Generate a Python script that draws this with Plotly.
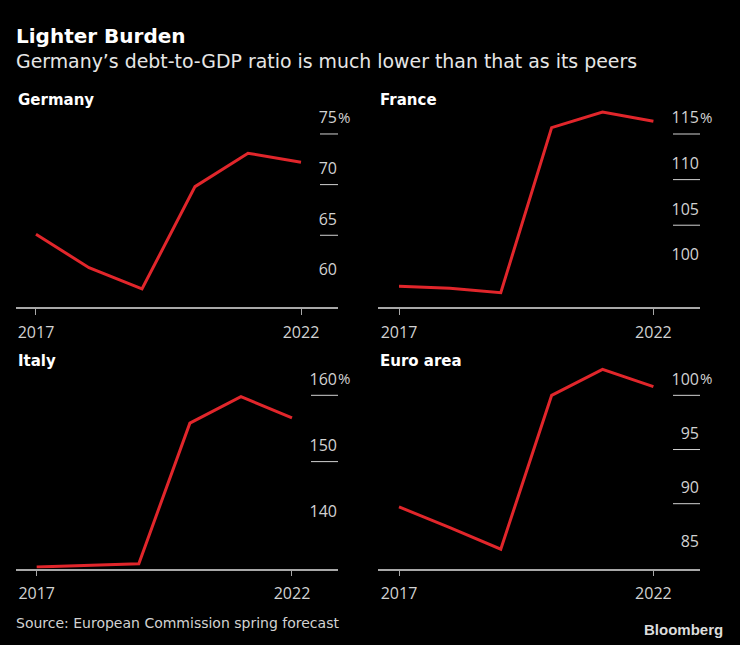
import plotly.graph_objects as go

# ---- data ----
years = [2017, 2018, 2019, 2020, 2021, 2022]
panel_names = ["Germany", "France", "Italy", "Euro area"]
germany = [65.1, 61.8, 59.7, 69.8, 73.1, 72.2]
france = [98.3, 98.1, 97.6, 115.7, 117.4, 116.4]
italy = [134.1, 134.4, 134.6, 155.8, 159.8, 156.6]
euro_area = [89.7, 87.8, 85.8, 100.0, 102.4, 100.8]
germany_ticks = [60, 65, 70, 75]
france_ticks = [100, 105, 110, 115]
italy_ticks = [140, 150, 160]
euro_ticks = [85, 90, 95, 100]
x_tick_years = [2017, 2022]

title = "Lighter Burden"
subtitle = "Germany’s debt-to-GDP ratio is much lower than that as its peers"
source = "Source: European Commission spring forecast"

# ---- styling / layout ----
W, H = 740, 645
RED = "#e1262b"
TXT = "#d2d2d2"
AX = "#a8a8a8"

def px_x(p):
    return p / W

def px_y(p):
    return 1 - p / H

series = [germany, france, italy, euro_area]
ticks = [germany_ticks, france_ticks, italy_ticks, euro_ticks]
x_domains = [(16, 338), (378, 700), (16, 338), (378, 700)]
y_domains = [(105, 307.3), (105, 307.3), (365, 568.5), (365, 568.5)]
x_ranges = [(2016.623, 2022.698), (2016.587, 2022.916), (2016.595, 2022.901), (2016.587, 2022.916)]
y_ranges = [(57.89, 77.86), (96.0, 118.18), (133.88, 164.57), (84.02, 102.80)]
grid_len = [18, 27, 27, 27]

fig = go.Figure()
layout = {}
shapes = []
annotations = []

for i in range(4):
    sfx = "" if i == 0 else str(i + 1)
    fig.add_trace(go.Scatter(
        x=years, y=series[i], mode="lines",
        line=dict(color=RED, width=3),
        xaxis="x" + sfx, yaxis="y" + sfx,
        showlegend=False, hoverinfo="skip",
    ))
    xd = x_domains[i]
    yd = y_domains[i]
    layout["xaxis" + sfx] = dict(
        domain=[px_x(xd[0]), px_x(xd[1])],
        range=list(x_ranges[i]),
        anchor="y" + sfx,
        tickvals=x_tick_years,
        ticktext=[str(v) for v in x_tick_years],
        ticks="outside", ticklen=6, tickcolor=AX, tickwidth=1,
        showline=True, linecolor=AX, linewidth=1.5,
        showgrid=False, zeroline=False,
        tickfont=dict(family="Open Sans", size=16, color=TXT),
        ticklabelstandoff=4,
        fixedrange=True,
    )
    tv = ticks[i]
    layout["yaxis" + sfx] = dict(
        domain=[px_y(yd[1]), px_y(yd[0])],
        range=list(y_ranges[i]),
        anchor="x" + sfx,
        side="right",
        tickvals=tv,
        ticktext=[str(v) for v in tv],
        ticklabelposition="inside top",
        ticklabelshift=-5,
        ticklabelstandoff=-2,
        ticks="",
        showline=False, showgrid=False, zeroline=False,
        tickfont=dict(family="Open Sans", size=16, color=TXT),
        fixedrange=True,
    )
    # short gridlines under labels (all but lowest tick)
    frac = grid_len[i] / (xd[1] - xd[0])
    for v in tv[1:]:
        shapes.append(dict(
            type="line", xref="x" + sfx + " domain", yref="y" + sfx,
            x0=1 - frac, x1=1, y0=v, y1=v,
            line=dict(color=TXT, width=1), layer="below",
        ))
    # percent sign next to top label
    annotations.append(dict(
        text="%", xref="x" + sfx + " domain", yref="y" + sfx,
        x=1, y=tv[-1], xanchor="left", yanchor="bottom",
        showarrow=False, yshift=5, xshift=-2,
        font=dict(family="Open Sans", size=15, color=TXT),
    ))
    # panel title
    annotations.append(dict(
        text="<b>" + panel_names[i] + "</b>", xref="paper", yref="paper",
        x=px_x(xd[0]), y=px_y(100 if i < 2 else 361),
        xanchor="left", yanchor="middle", showarrow=False,
        font=dict(family="DejaVu Sans", size=15, color="#ffffff"),
    ))

annotations += [
    dict(text="<b>" + title + "</b>", xref="paper", yref="paper",
         x=px_x(14), y=px_y(36), xanchor="left", yanchor="middle",
         showarrow=False, font=dict(family="DejaVu Sans", size=20, color="#ffffff")),
    dict(text=subtitle, xref="paper", yref="paper",
         x=px_x(14), y=px_y(61), xanchor="left", yanchor="middle",
         showarrow=False, font=dict(family="DejaVu Sans", size=18.9, color="#e6e6e6")),
    dict(text=source, xref="paper", yref="paper",
         x=px_x(14), y=px_y(623), xanchor="left", yanchor="middle",
         showarrow=False, font=dict(family="DejaVu Sans", size=14, color=TXT)),
    dict(text="<b>Bloomberg</b>", xref="paper", yref="paper",
         x=px_x(725), y=px_y(629), xanchor="right", yanchor="middle",
         showarrow=False, font=dict(family="Liberation Sans", size=15, color="#dcdcdc")),
]

fig.update_layout(
    width=W, height=H,
    margin=dict(l=0, r=0, t=0, b=0),
    paper_bgcolor="#000000", plot_bgcolor="#000000",
    shapes=shapes, annotations=annotations,
    **layout,
)

fig.write_html("out.html", config={"displayModeBar": False},
               post_script="document.body.style.margin='0';document.body.style.overflow='hidden';")
